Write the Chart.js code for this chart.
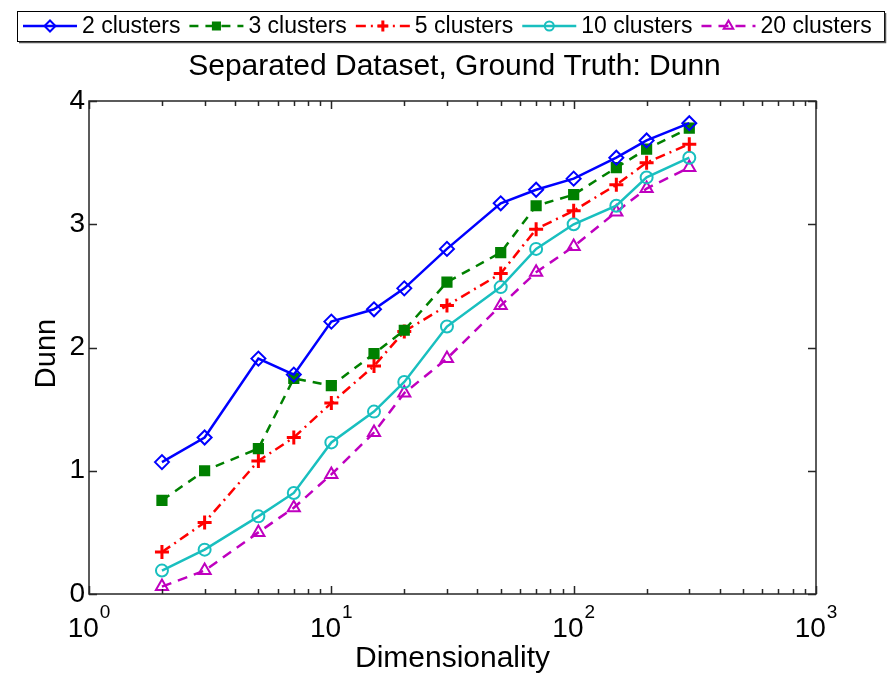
<!DOCTYPE html>
<html>
<head>
<meta charset="utf-8">
<script src="https://cdn.jsdelivr.net/npm/chart.js@4"></script>
<style>
  html, body { margin: 0; padding: 0; background: #ffffff; }
  #wrap { width: 887px; height: 673px; }
</style>
</head>
<body>
<div id="wrap"><canvas id="c" width="887" height="673"></canvas></div>
<script>
const dims = [2, 3, 5, 7, 10, 15, 20, 30, 50, 70, 100, 150, 200, 300];
const seriesNames = ['2 clusters', '3 clusters', '5 clusters', '10 clusters', '20 clusters'];
const dunn2  = [1.07, 1.27, 1.91, 1.78, 2.21, 2.31, 2.48, 2.80, 3.17, 3.28, 3.37, 3.54, 3.68, 3.82];
const dunn3  = [0.76, 1.00, 1.18, 1.75, 1.69, 1.95, 2.14, 2.53, 2.77, 3.15, 3.24, 3.46, 3.61, 3.78];
const dunn5  = [0.34, 0.58, 1.08, 1.27, 1.55, 1.85, 2.13, 2.34, 2.60, 2.96, 3.11, 3.32, 3.50, 3.65];
const dunn10 = [0.19, 0.36, 0.63, 0.82, 1.23, 1.48, 1.72, 2.17, 2.49, 2.80, 3.00, 3.15, 3.38, 3.54];
const dunn20 = [0.06, 0.19, 0.50, 0.70, 0.97, 1.31, 1.63, 1.91, 2.34, 2.61, 2.82, 3.10, 3.29, 3.46];
const yTicks = [0, 1, 2, 3, 4];
const xDecades = [0, 1, 2, 3];
const titleText = 'Separated Dataset, Ground Truth: Dunn';
const xTitle = 'Dimensionality';
const yTitle = 'Dunn';

const FONT = '"Liberation Sans", Arial, Helvetica, sans-serif';
const styles = [
  { color: '#0000ff', dash: [], point: 'rectRot', radius: 7, bw: 2, fill: 'rgba(0,0,0,0)' },
  { color: '#008000', dash: [9, 7], point: 'rect', radius: 6.5, bw: 2, fill: '#008000' },
  { color: '#ff0000', dash: [10, 5, 2, 5], point: 'cross', radius: 7, bw: 3, fill: 'rgba(0,0,0,0)' },
  { color: '#19bfbf', dash: [], point: 'circle', radius: 6, bw: 2, fill: 'rgba(0,0,0,0)' },
  { color: '#bf00bf', dash: [10, 7], point: 'triangle', radius: 7, bw: 2, fill: 'rgba(0,0,0,0)' }
];
const allSeries = [dunn2, dunn3, dunn5, dunn10, dunn20];

const datasets = allSeries.map((vals, i) => ({
  label: seriesNames[i],
  data: dims.map((d, j) => ({ x: d, y: vals[j] })),
  borderColor: styles[i].color,
  backgroundColor: styles[i].fill,
  borderWidth: 2.5,
  borderDash: styles[i].dash,
  pointStyle: styles[i].point,
  pointRadius: styles[i].radius,
  pointBorderWidth: styles[i].bw,
  pointBorderColor: styles[i].color,
  pointBackgroundColor: styles[i].fill,
  tension: 0,
  fill: false
}));

function drawMarker(ctx, st, x, y, r) {
  const h = Chart.helpers;
  ctx.save();
  ctx.setLineDash([]);
  ctx.strokeStyle = st.color;
  ctx.fillStyle = st.fill;
  ctx.lineWidth = st.bw;
  if (h && h.drawPoint) {
    h.drawPoint(ctx, { pointStyle: st.point, radius: r, rotation: 0, borderWidth: st.bw }, x, y);
  }
  ctx.restore();
}

const decor = {
  id: 'decor',
  afterDraw(chart) {
    const ctx = chart.ctx;
    const a = chart.chartArea;
    const xs = chart.scales.x, ys = chart.scales.y;
    ctx.save();
    ctx.strokeStyle = '#262626';
    ctx.lineWidth = 1.5;
    ctx.setLineDash([]);
    ctx.strokeRect(a.left, a.top, a.right - a.left, a.bottom - a.top);
    ctx.beginPath();
    yTicks.forEach(v => {
      const py = Math.round(ys.getPixelForValue(v)) + 0.5;
      ctx.moveTo(a.left, py); ctx.lineTo(a.left + 8, py);
      ctx.moveTo(a.right, py); ctx.lineTo(a.right - 8, py);
    });
    xDecades.forEach(k => {
      for (let m = 1; m <= 9; m++) {
        const v = m * Math.pow(10, k);
        if (v > 1000) break;
        const px = Math.round(xs.getPixelForValue(v)) + 0.5;
        const len = m === 1 ? 8 : 5;
        ctx.moveTo(px, a.bottom); ctx.lineTo(px, a.bottom - len);
        ctx.moveTo(px, a.top); ctx.lineTo(px, a.top + len);
      }
    });
    ctx.stroke();
    ctx.fillStyle = '#000000';
    ctx.textBaseline = 'alphabetic';
    xDecades.forEach(k => {
      const px = xs.getPixelForValue(Math.pow(10, k));
      ctx.font = '28px ' + FONT;
      const wb = ctx.measureText('10').width;
      ctx.font = '19px ' + FONT;
      const we = ctx.measureText(String(k)).width;
      const x0 = px - (wb + we + 1) / 2;
      ctx.font = '28px ' + FONT;
      ctx.textAlign = 'left';
      ctx.fillText('10', x0, 637);
      ctx.font = '19px ' + FONT;
      ctx.fillText(String(k), x0 + wb + 1, 618);
    });
    ctx.font = '30px ' + FONT;
    ctx.textAlign = 'center';
    ctx.fillText(titleText, (a.left + a.right) / 2 + 2, 75);
    ctx.fillText(xTitle, (a.left + a.right) / 2, 667);
    ctx.save();
    ctx.translate(55, (a.top + a.bottom) / 2 + 6);
    ctx.rotate(-Math.PI / 2);
    ctx.font = '29px ' + FONT;
    ctx.fillText(yTitle, 0, 0);
    ctx.restore();

    const bx = 17, by = 11, bw = 867, bh = 30;
    ctx.fillStyle = '#ffffff';
    ctx.fillRect(bx, by, bw, bh);
    ctx.strokeStyle = '#000000';
    ctx.lineWidth = 1;
    ctx.strokeRect(bx + 0.5, by + 0.5, bw, bh);
    ctx.strokeStyle = '#555555';
    ctx.lineWidth = 1.5;
    ctx.beginPath();
    ctx.moveTo(bx + 2, by + bh + 1.5); ctx.lineTo(bx + bw + 1.5, by + bh + 1.5); ctx.lineTo(bx + bw + 1.5, by + 2);
    ctx.stroke();
    const cy = 26;
    let cx = 23;
    ctx.textAlign = 'left';
    ctx.textBaseline = 'middle';
    seriesNames.forEach((name, i) => {
      const st = styles[i];
      ctx.save();
      ctx.strokeStyle = st.color;
      ctx.lineWidth = 2.5;
      ctx.setLineDash(st.dash);
      ctx.beginPath();
      ctx.moveTo(cx, cy); ctx.lineTo(cx + 54, cy);
      ctx.stroke();
      ctx.restore();
      drawMarker(ctx, st, cx + 27, cy, st.radius - 1.5);
      ctx.fillStyle = '#000000';
      ctx.font = '23px ' + FONT;
      ctx.fillText(name, cx + 59, cy + 1);
      cx += 59 + ctx.measureText(name).width + 9;
    });
    ctx.restore();
  }
};

new Chart(document.getElementById('c'), {
  type: 'line',
  data: { datasets },
  options: {
    responsive: false,
    animation: false,
    devicePixelRatio: 1,
    layout: { padding: { top: 101, right: 71, bottom: 0, left: 0 } },
    plugins: { legend: { display: false }, title: { display: false }, tooltip: { enabled: false } },
    scales: {
      x: {
        type: 'logarithmic',
        min: 1, max: 1000,
        grid: { display: false, drawTicks: false },
        border: { display: false },
        ticks: { display: false },
        afterFit(s) { s.height = 79; }
      },
      y: {
        type: 'linear',
        min: 0, max: 4,
        grid: { display: false, drawTicks: false },
        border: { display: false },
        afterBuildTicks(s) { s.ticks = yTicks.map(v => ({ value: v })); },
        ticks: {
          color: '#000000',
          font: { size: 28, family: FONT },
          padding: 4,
          callback: v => String(v)
        },
        afterFit(s) { s.width = 89; }
      }
    }
  },
  plugins: [decor]
});
</script>
</body>
</html>
